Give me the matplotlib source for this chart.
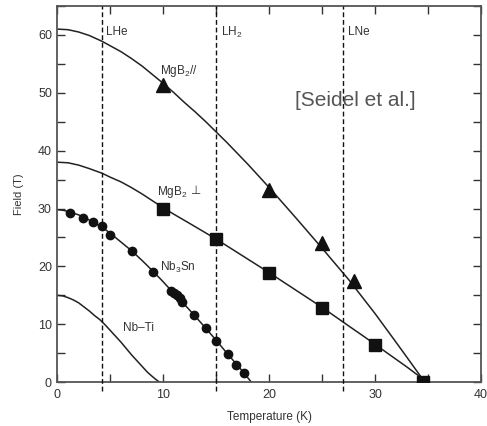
import matplotlib
matplotlib.use("Agg")
import matplotlib.pyplot as plt
from matplotlib.ticker import MultipleLocator

plt.rcParams['font.family'] = ['Liberation Sans', 'DejaVu Sans']
plt.rcParams['mathtext.fontset'] = 'custom'
plt.rcParams['mathtext.rm'] = 'Liberation Sans'
plt.rcParams['mathtext.it'] = 'Liberation Sans:italic'

# Critical field lines, H_c2(T)
mgb2_par_T = [0, 1, 2, 3, 4.2, 5, 6, 7, 8, 9, 10, 11, 12, 13, 14, 15, 16, 17, 18, 19, 20,
              22.5, 25, 27.5, 30, 32, 33.5, 34.4]
mgb2_par_F = [61.0, 60.9, 60.5, 59.9, 58.9, 58.1, 57.1, 55.9, 54.6, 53.1, 51.6, 50.0, 48.3,
              46.7, 45.0, 43.2, 41.4, 39.5, 37.6, 35.6, 33.6, 28.4, 23.1, 17.7, 11.8, 6.8, 3.0, 0.7]

mgb2_perp_T = [0, 1, 2, 3, 4.2, 5, 6, 7, 8, 9, 10, 11, 12.5, 15, 17.5, 20, 22.5, 25, 27.5,
               29, 30, 31, 32, 33, 33.8, 34.4]
mgb2_perp_F = [38.0, 37.9, 37.5, 36.9, 36.1, 35.4, 34.6, 33.6, 32.5, 31.3, 30.1, 29.0, 27.4,
               24.7, 21.8, 18.9, 15.9, 12.9, 9.7, 7.8, 6.5, 5.2, 3.9, 2.6, 1.5, 0.7]

nb3sn_T = [0, 0.5, 1, 1.5, 2, 2.5, 3, 3.5, 4.2, 5, 6, 7, 8, 9, 10, 11, 12, 13, 14, 15, 16,
           17, 17.6, 18.3]
nb3sn_F = [29.8, 29.7, 29.5, 29.2, 28.9, 28.5, 28.0, 27.5, 26.8, 25.7, 24.2, 22.7, 21.0, 19.2,
           17.3, 15.3, 13.4, 11.4, 9.3, 7.2, 5.0, 2.9, 1.6, 0.0]

nbti_T = [0, 0.5, 1, 1.5, 2, 2.5, 3, 3.5, 4, 4.5, 5, 5.5, 6, 6.5, 7, 7.5, 8, 8.5, 9, 9.3, 9.6]
nbti_F = [15.0, 14.9, 14.6, 14.2, 13.7, 13.0, 12.3, 11.5, 10.8, 9.9, 8.9, 7.9, 6.9, 5.8, 4.7,
          3.7, 2.7, 1.7, 0.9, 0.45, 0.05]

# Measured points
mgb2_par_pts_T = [10, 20, 25, 28]
mgb2_par_pts_F = [51.4, 33.2, 24.0, 17.5]

mgb2_perp_pts_T = [10, 15, 20, 25, 30, 34.5]
mgb2_perp_pts_F = [30.0, 24.7, 18.9, 12.8, 6.5, 0.0]

nb3sn_pts_T = [1.2, 2.4, 3.4, 4.2, 5.0, 7.0, 9.0, 10.7, 11.0, 11.3, 11.6, 11.8, 12.9, 14.0,
               15.0, 16.1, 16.9, 17.6]
nb3sn_pts_F = [29.3, 28.3, 27.6, 27.0, 25.4, 22.7, 19.1, 15.8, 15.4, 15.0, 14.5, 13.8, 11.6,
               9.3, 7.1, 4.8, 2.9, 1.5]

# Cryogen temperatures
cryogen_T = [4.2, 15, 27]
cryogen_labels = ['LHe', 'LH$_2$', 'LNe']

text_col = '#333333'
fig = plt.figure(figsize=(4.87, 4.26), dpi=100)
ax = fig.add_axes([0.118, 0.103, 0.870, 0.883])

lw = 1.1
for T, F in [(mgb2_par_T, mgb2_par_F), (mgb2_perp_T, mgb2_perp_F),
             (nb3sn_T, nb3sn_F), (nbti_T, nbti_F)]:
    ax.plot(T, F, color='#222222', lw=lw, solid_joinstyle='round')

ax.plot(mgb2_par_pts_T, mgb2_par_pts_F, '^', color='#111111', ms=9.5, zorder=4)
ax.plot(mgb2_perp_pts_T, mgb2_perp_pts_F, 's', color='#111111', ms=9, zorder=4)
ax.plot(nb3sn_pts_T, nb3sn_pts_F, 'o', color='#111111', ms=6, zorder=4)

for t, lab in zip(cryogen_T, cryogen_labels):
    ax.plot([t, t], [-1.5, 65], color='#111111', lw=1.0, ls=(0, (3.5, 2)),
            clip_on=False, zorder=3)
    ax.text(t + 0.4, 60.5, lab, fontsize=8.5, color=text_col, va='center', ha='left')

ax.text(9.7, 53.7, 'MgB$_2$//', fontsize=8.5, color=text_col, va='center')
ax.text(9.4, 32.8, 'MgB$_2$', fontsize=8.5, color=text_col, va='center')
ax.text(13.1, 33.1, '\u22a5', fontsize=8.5, color=text_col, va='center', ha='center',
        family=['DejaVu Sans'])
ax.text(9.7, 19.9, 'Nb$_3$Sn', fontsize=8.5, color=text_col, va='center')
ax.text(6.2, 9.3, 'Nb\u2013Ti', fontsize=8.5, color=text_col, va='center')

ax.text(28.1, 48.6, '[Seidel et al.]', fontsize=15, color='#555555',
        ha='center', va='center')

ax.set_xlim(0, 40)
ax.set_ylim(0, 65)
ax.xaxis.set_major_locator(MultipleLocator(10))
ax.xaxis.set_minor_locator(MultipleLocator(5))
ax.yaxis.set_major_locator(MultipleLocator(10))
ax.yaxis.set_minor_locator(MultipleLocator(5))
ax.tick_params(which='both', direction='in', top=True, right=True,
               length=6, width=1.0, color='#333333', labelsize=9,
               labelcolor=text_col)
ax.tick_params(axis='x', pad=5)
ax.tick_params(axis='y', pad=4)
for s in ax.spines.values():
    s.set_linewidth(1.3)
    s.set_color('#555555')

ax.set_xlabel('Temperature (K)', fontsize=8.5, color=text_col, labelpad=7)
ax.set_ylabel('Field (T)', fontsize=8, color=text_col, labelpad=10)

fig.savefig('out.png', dpi=100)
